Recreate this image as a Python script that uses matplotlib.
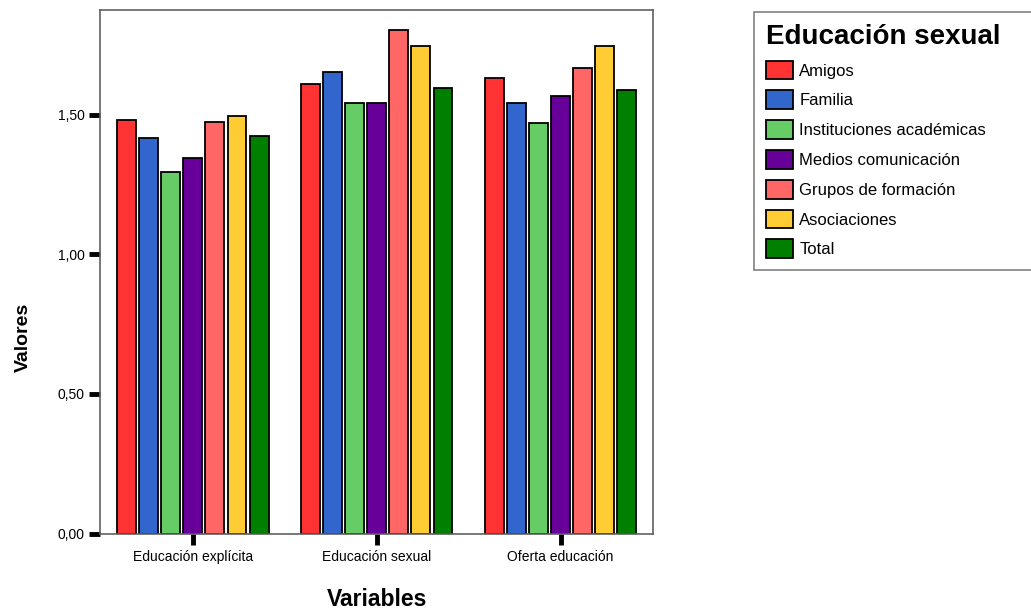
import matplotlib.pyplot as plt
import numpy as np

plt.rcParams['font.family'] = ['Liberation Sans', 'DejaVu Sans']

variables = ["Educación explícita", "Educación sexual", "Oferta educación"]
fuentes = ["Amigos", "Familia", "Instituciones académicas", "Medios comunicación",
           "Grupos de formación", "Asociaciones", "Total"]
colores = ["#FF3333", "#3366CC", "#66CC66", "#660099", "#FF6666", "#FFCC33", "#007F00"]

amigos = [1.482, 1.610, 1.632]
familia = [1.418, 1.654, 1.544]
instituciones = [1.295, 1.544, 1.472]
medios = [1.345, 1.544, 1.567]
grupos = [1.474, 1.802, 1.667]
asociaciones = [1.495, 1.746, 1.746]
total = [1.424, 1.596, 1.589]
series = [amigos, familia, instituciones, medios, grupos, asociaciones, total]

fig = plt.figure(figsize=(10.31, 6.14), dpi=100)
ax = fig.add_axes([0.097, 0.131, 0.536, 0.853])

x = np.arange(len(variables))
slot = 0.12
for i, vals in enumerate(series):
    ax.bar(x + (i - 3) * slot, vals, width=0.103, color=colores[i],
           edgecolor="black", linewidth=1.3, label=fuentes[i])

ax.set_xlim(-0.505, 2.5)
ax.set_ylim(0, 1.876)
ax.set_yticks([0, 0.5, 1.0, 1.5])
ax.set_yticklabels(["0,00", "0,50", "1,00", "1,50"])
ax.set_xticks(x)
ax.set_xticklabels(variables)
ax.tick_params(axis="both", direction="out", length=8, width=3.5, labelsize=10, pad=3)
ax.tick_params(axis="x", pad=4)
for s in ax.spines.values():
    s.set_color("#606060")
    s.set_linewidth(1.2)

# axis titles placed like the original
fig.text(377 / 1031, 1 - 600 / 614, "Variables", fontsize=16.5, fontweight="bold",
         ha="center", va="center")
fig.text(23 / 1031, 1 - 337 / 614, "Valores", fontsize=14, fontweight="bold",
         rotation=90, ha="center", va="center")

leg = ax.legend(title="Educación sexual", loc="upper left",
                bbox_to_anchor=(1.184, 0.996, 0.51, 0.0), mode="expand",
                fontsize=12, frameon=True, fancybox=False, edgecolor="#606060",
                handlelength=1.6, handleheight=1.36, handletextpad=0.4,
                labelspacing=0.66, borderpad=0.7, borderaxespad=0, alignment="left")
leg.get_title().set_fontsize(20)
leg.get_title().set_fontweight("bold")
leg.get_frame().set_linewidth(1.2)

fig.savefig("out.png", dpi=100)
